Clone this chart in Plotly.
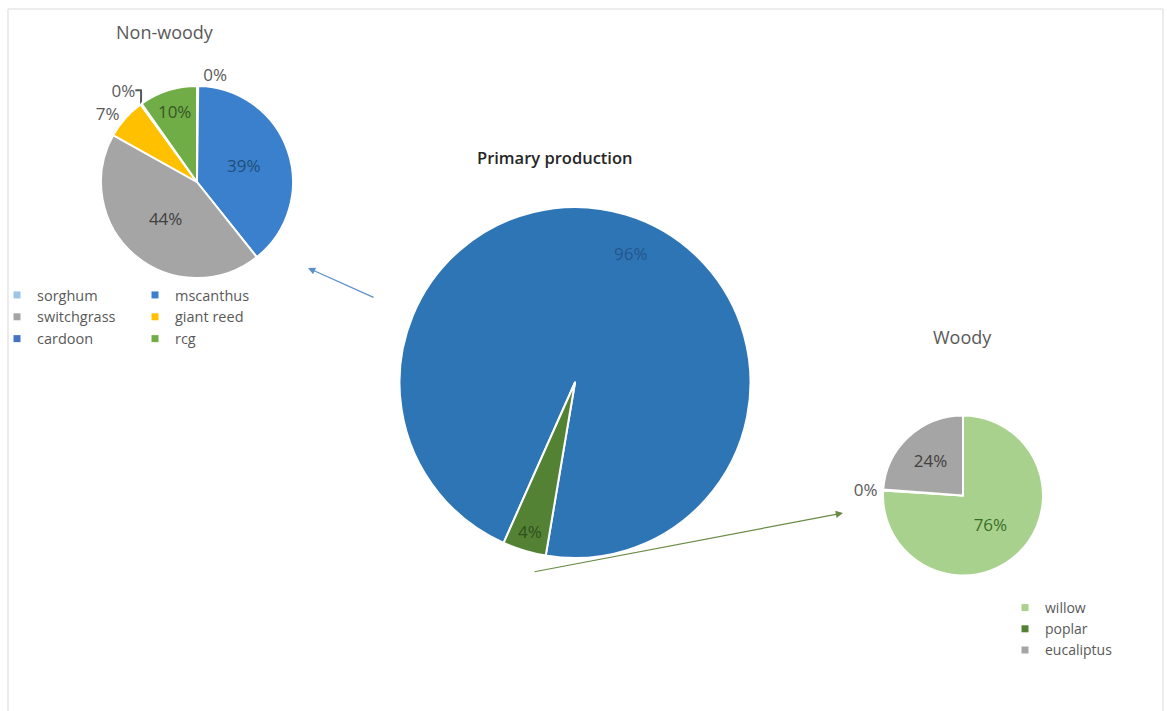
import math
import plotly.graph_objects as go

W, H = 1167, 711

# ---- data ----
main_labels = ["Non-woody", "Woody"]
main_values = [96, 4]

nw_labels = ["sorghum", "mscanthus", "switchgrass", "giant reed", "cardoon", "rcg"]
nw_values = [0.2, 39.1, 43.8, 6.9, 0.2, 9.8]

wd_labels = ["willow", "poplar", "eucaliptus"]
wd_values = [76.0, 0.2, 23.8]

# ---- styles ----
main_colors = ["#2e75b6", "#548235"]
main_textcol = ["#24558c", "#2f4f1c"]
nw_colors = ["#9dc3e6", "#3b80cc", "#a5a5a5", "#ffc000", "#4472c4", "#70ad47"]
nw_textcol = ["#595959", "#1f4e79", "#404040", "#595959", "#595959", "#375623"]
nw_pos = ["outside", "inside", "inside", "outside", "outside", "inside"]
wd_colors = ["#a9d18e", "#548235", "#a5a5a5"]
wd_textcol = ["#3b6e25", "#595959", "#404040"]
wd_pos = ["inside", "outside", "inside"]

FONT = "Open Sans"
GREY = "#595959"
MAIN_C = (575, 382.5, 175.5)
MAIN_ROT = 204


def px_dom(cx, cy, r):
    return dict(x=[(cx - r) / W, (cx + r) / W], y=[1 - (cy + r) / H, 1 - (cy - r) / H])


fig = go.Figure()

fig.add_trace(go.Pie(
    labels=main_labels, values=main_values, sort=False, direction="clockwise",
    rotation=MAIN_ROT, domain=px_dom(*MAIN_C),
    marker=dict(colors=main_colors, line=dict(color="white", width=2)),
    texttemplate=["", "%{percent:.0%}"], textposition="inside", insidetextorientation="horizontal",
    textfont=dict(family=FONT, size=17, color=main_textcol),
    showlegend=False, hoverinfo="skip",
))

fig.add_trace(go.Pie(
    labels=nw_labels, values=nw_values, sort=False, direction="clockwise",
    rotation=0, domain=px_dom(197, 182, 96),
    marker=dict(colors=nw_colors, line=dict(color="white", width=2)),
    texttemplate="%{percent:.0%}", textposition=nw_pos, insidetextorientation="horizontal",
    insidetextfont=dict(family=FONT, size=17, color=nw_textcol),
    outsidetextfont=dict(family=FONT, size=17, color=GREY),
    showlegend=False, hoverinfo="skip",
))

fig.add_trace(go.Pie(
    labels=wd_labels, values=wd_values, sort=False, direction="clockwise",
    rotation=0, domain=px_dom(963, 495.5, 80),
    marker=dict(colors=wd_colors, line=dict(color="white", width=2)),
    texttemplate="%{percent:.0%}", textposition=wd_pos, insidetextorientation="horizontal",
    insidetextfont=dict(family=FONT, size=17, color=wd_textcol),
    outsidetextfont=dict(family=FONT, size=17, color=GREY),
    showlegend=False, hoverinfo="skip",
))

# legend entries (square swatches) for the two sub pies
nw_cols = {"sorghum": "c1", "switchgrass": "c1", "cardoon": "c1",
           "mscanthus": "c2", "giant reed": "c2", "rcg": "c2"}
order = ["sorghum", "switchgrass", "cardoon", "mscanthus", "giant reed", "rcg"]
for lab in order:
    i = nw_labels.index(lab)
    fig.add_trace(go.Scatter(
        x=[None], y=[None], mode="markers", name=lab, legend="legend",
        legendgroup=nw_cols[lab],
        marker=dict(symbol="square", size=7, color=nw_colors[i]),
    ))
for i, lab in enumerate(wd_labels):
    fig.add_trace(go.Scatter(
        x=[None], y=[None], mode="markers", name=lab, legend="legend2",
        marker=dict(symbol="square", size=7, color=wd_colors[i]),
    ))

ann = []
for text, x, y, bold, col, size in [("Non-woody", 165, 32, False, GREY, 18),
                                    ("Primary production", 555, 157, True, "#262626", 16.5),
                                    ("Woody", 962, 337, False, GREY, 18)]:
    ann.append(dict(text=text, x=x / W, y=1 - y / H, xref="paper", yref="paper",
                    showarrow=False, xanchor="center", yanchor="middle",
                    font=dict(family=FONT, size=size, color=col, weight=600 if bold else 400)))

# label of the large slice of the main pie, placed at 0.8 R along a direction inside the slice
tot = sum(main_values)
ang = math.radians(MAIN_ROT + 360 * main_values[0] / tot * 0.52)
cx, cy, r = MAIN_C
ann.append(dict(text=f"{round(100 * main_values[0] / tot)}%",
                x=(cx + 0.8 * r * math.sin(ang)) / W, y=1 - (cy - 0.8 * r * math.cos(ang)) / H,
                xref="paper", yref="paper", showarrow=False,
                font=dict(family=FONT, size=17, color=main_textcol[0])))

# arrows
ann.append(dict(x=308 / W, y=1 - 268 / H, xref="paper", yref="paper", ax=67, ay=30,
                axref="pixel", ayref="pixel", text="", showarrow=True,
                arrowhead=2, arrowsize=1.2, arrowwidth=1.2, arrowcolor="#5b8fc9"))
ann.append(dict(x=843 / W, y=1 - 513 / H, xref="paper", yref="paper", ax=-310, ay=59,
                axref="pixel", ayref="pixel", text="", showarrow=True,
                arrowhead=2, arrowsize=1.2, arrowwidth=1.2, arrowcolor="#6a8a45"))

fig.update_layout(
    width=W, height=H, margin=dict(l=0, r=0, t=0, b=0),
    paper_bgcolor="white", plot_bgcolor="white",
    font=dict(family=FONT, color=GREY),
    uniformtext=dict(minsize=17, mode="show"),
    xaxis=dict(visible=False), yaxis=dict(visible=False),
    annotations=ann,
    legend=dict(x=12 / W, y=1 - 279 / H, xanchor="left", yanchor="top",
                orientation="h", traceorder="grouped", entrywidth=108, entrywidthmode="pixels",
                indentation=-15, font=dict(family=FONT, size=14.5, color=GREY),
                bgcolor="rgba(0,0,0,0)", itemclick=False, itemdoubleclick=False),
    legend2=dict(x=1020 / W, y=1 - 592 / H, xanchor="left", yanchor="top",
                 orientation="v", indentation=-15, font=dict(family=FONT, size=14, color=GREY),
                 bgcolor="rgba(0,0,0,0)", itemclick=False, itemdoubleclick=False),
    shapes=[dict(type="rect", xref="paper", yref="paper", x0=8 / W, x1=1163 / W,
                 y0=-0.05, y1=1 - 9 / H, line=dict(color="#d9d9d9", width=1),
                 fillcolor="rgba(0,0,0,0)", layer="below")],
)

fig.write_html("out.html", config={"displayModeBar": False},
               post_script="document.body.style.margin='0';document.body.style.overflow='hidden';")
